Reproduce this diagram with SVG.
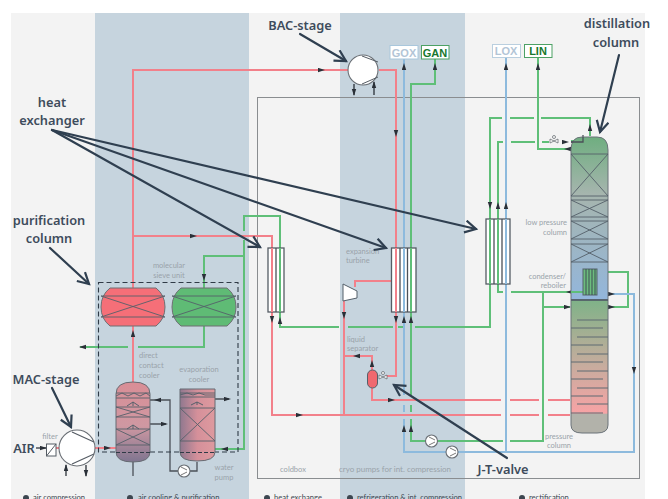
<svg xmlns="http://www.w3.org/2000/svg" width="668" height="499" viewBox="0 0 668 499">
<style>
.r,.g,.b,.k,.d{fill:none}
.r{stroke:#f2808a;stroke-width:2}
.g{stroke:#5fbf78;stroke-width:2}
.b{stroke:#8dbadd;stroke-width:2}
.k{stroke:#4b5058;stroke-width:1.300}
.d{stroke:#2f3f50;stroke-width:2.200;stroke-linecap:round}
.t{font-family:"Noto Sans","Open Sans",sans-serif;font-weight:600;font-size:12.800px;fill:#3e4c5c;text-anchor:middle}
.s{font-family:Lato,"Open Sans",sans-serif;font-size:7.500px;fill:#9aa3aa;text-anchor:middle}
.sl{text-anchor:start}
.se{text-anchor:end}
.f{font-family:Lato,"Open Sans",sans-serif;font-size:7.600px;fill:#3c4650}
.box{font-family:"Liberation Sans",Arial,sans-serif;font-weight:700;font-size:11px;text-anchor:middle}
.x{stroke:#55606a;stroke-width:.9;fill:none}
.v{stroke:#5f6a72;stroke-width:1;fill:none}
.hx{fill:#fff;stroke:#555c64;stroke-width:1.300}
.cp{fill:#fff;stroke:#6a6f75;stroke-width:1.100}
.ah{fill:none;stroke:none}
</style>
<defs>
<marker id="a" markerWidth="8" markerHeight="6" refX="6" refY="2.500" orient="auto" markerUnits="userSpaceOnUse"><path d="M0 .3L7 2.500L0 4.700z" fill="#2a3038"/></marker>
<marker id="h" markerWidth="16" markerHeight="16" refX="12" refY="7" orient="auto" markerUnits="userSpaceOnUse"><path d="M1 1L12 7L1 13" fill="none" stroke="#2f3f50" stroke-width="2.200"/></marker>
<linearGradient id="cu" x1="0" y1="0" x2="0" y2="1"><stop offset="0" stop-color="#6fae80"/><stop offset=".35" stop-color="#a6b5ae"/><stop offset="1" stop-color="#93b6dc"/></linearGradient>
<linearGradient id="cl" x1="0" y1="0" x2="0" y2="1"><stop offset="0" stop-color="#7fb288"/><stop offset=".5" stop-color="#c8ac9e"/><stop offset=".85" stop-color="#f7a3a5"/><stop offset=".86" stop-color="#b2b2aa"/><stop offset="1" stop-color="#b2b2aa"/></linearGradient>
<linearGradient id="dc" x1="0" y1="0" x2="0" y2="1"><stop offset="0" stop-color="#d98e96"/><stop offset=".55" stop-color="#cf98a2"/><stop offset="1" stop-color="#7f7590"/></linearGradient>
<linearGradient id="ev" x1="0" y1="0" x2="1" y2="0"><stop offset="0" stop-color="#90788f"/><stop offset=".5" stop-color="#d5909a"/><stop offset="1" stop-color="#de9a9f"/></linearGradient>
</defs>
<g id="background">
<rect width="668" height="499" fill="#fff"/>
<rect x="11" y="13" width="634" height="486" fill="#f3f3f3"/>
<rect x="95" y="13" width="154" height="486" fill="#c6d4de"/>
<rect x="340" y="13" width="125" height="486" fill="#c6d4de"/>
<rect x="257.500" y="97.500" width="382" height="381" fill="none" stroke="#8a8d90" stroke-width="1"/>
</g>
<g id="connectors">
<path class="r" d="M133 382V70H349"/>
<path class="r" d="M133 236H272V415H501M510 415H539M548 415H570"/>
<path class="r" d="M379 70H396V376H385"/>
<path class="r" d="M396 281H355V287"/>
<path class="r" d="M344 300V415M344 356H372V370M372 388V400H501M510 400H539M548 400H570"/>
<path class="r" d="M62 448H46M95 448H116"/>
<path class="g" d="M244 231V216H280V327H339M348 327H393M398 327H403M415 327H490V118H502M510 118H534M541 118H590V136"/>
<path class="g" d="M244 240V449H215M244 256H204V288"/>
<path class="g" d="M204 326V347H138M128 347H80"/>
<path class="g" d="M498 219V142H503M511 142H535M542 142H549"/>
<path class="g" d="M538 58V149H580V141H571"/>
<path class="g" d="M498 284V292H503M511 292H570M543 292V441H510M503 441H411V419M411 412V405M411 396V84H435V59"/>
<path class="g" d="M543 307H570M597 272H628V307H608"/>
<path class="b" d="M404 59V395M404 405V412M404 419V452H634V294H608"/>
<path class="b" d="M506 57V452"/>
<path class="k" d="M571 142H583V135"/>
<path class="k" d="M150 400H170V471H178M190 471H197V462"/>
<path class="k" d="M133 425L140 424H166M197 402L201 399H229"/>
<path class="k" d="M133 462V476M36 448H46" marker-end="url(#a)"/>
<g class="ah">
<path d="M133 334V331" marker-end="url(#a)"/><path d="M86 347H80" marker-end="url(#a)"/>
<path d="M104 448H110" marker-end="url(#a)"/><path d="M226 449H222" marker-end="url(#a)"/>
<path d="M190 236H196" marker-end="url(#a)"/><path d="M320 70H324" marker-end="url(#a)"/>
<path d="M204 274V280" marker-end="url(#a)"/>
<path d="M272 318V322" marker-end="url(#a)"/><path d="M280 322V318" marker-end="url(#a)"/>
<path d="M344 312V318" marker-end="url(#a)"/><path d="M396 318V322" marker-end="url(#a)"/>
<path d="M404 322V317" marker-end="url(#a)"/><path d="M411 322V317" marker-end="url(#a)"/>
<path d="M396 130V136" marker-end="url(#a)"/>
<path d="M404 70V64" marker-end="url(#a)"/><path d="M435 70V64" marker-end="url(#a)"/>
<path d="M506 70V64" marker-end="url(#a)"/><path d="M538 70V64" marker-end="url(#a)"/>
<path d="M590 130V125" marker-end="url(#a)"/><path d="M490 203V208" marker-end="url(#a)"/>
<path d="M498 208V203" marker-end="url(#a)"/><path d="M506 208V203" marker-end="url(#a)"/>
<path d="M562 142H568" marker-end="url(#a)"/><path d="M570 149H565" marker-end="url(#a)"/>
<path d="M572 292H567" marker-end="url(#a)"/><path d="M563 307H570" marker-end="url(#a)"/>
<path d="M608 294H614" marker-end="url(#a)"/><path d="M608 307H614" marker-end="url(#a)"/>
<path d="M606 272H600" marker-end="url(#a)"/>
<path d="M634 368V373" marker-end="url(#a)"/>
<path d="M360 356H354" marker-end="url(#a)"/>
<path d="M372 366V361" marker-end="url(#a)"/><path d="M388 400H394" marker-end="url(#a)"/>
<path d="M296 415H302" marker-end="url(#a)"/>
<path d="M404 431V426" marker-end="url(#a)"/><path d="M411 431V426" marker-end="url(#a)"/>
<path d="M166 424H167" marker-end="url(#a)"/><path d="M229 399H230" marker-end="url(#a)"/>
<path d="M157 400H161" transform="rotate(180 158 400)" marker-end="url(#a)"/>
</g>
</g>
<g id="hex1"><rect class="hx" x="268" y="248" width="16" height="64"/><path class="r" d="M272 248V312"/><path class="g" d="M280 248V312"/><path class="k" d="M276 248V312"/></g>
<g id="hex2"><rect class="hx" x="391.500" y="248" width="24.500" height="64"/><path class="r" d="M396 248V312"/><path class="b" d="M404 248V312"/><path class="g" d="M411 248V312"/><path class="k" d="M400 248V312M407.500 248V312"/></g>
<g id="hex3"><rect class="hx" x="486" y="219" width="24" height="65"/><path class="g" d="M490 219V284M498 219V284"/><path class="b" d="M506 219V284"/><path class="k" d="M494 219V284M502 219V284"/></g>
<g id="turbine"><path d="M343 284L357 291V298L343 301Z" fill="#fff" stroke="#55606a"/><text class="s sl" x="346" y="254">expansion</text><text class="s sl" x="346" y="263">turbine</text></g>
<g id="separator"><rect x="367.500" y="370" width="10" height="18" rx="5" fill="#f0686f" stroke="#55606a"/><path d="M379 375L387 379V375L379 379Z" fill="#fff" stroke="#6a7075" stroke-width=".8"/><circle cx="383" cy="373" r="1.500" fill="#fff" stroke="#6a7075" stroke-width=".8"/><text class="s sl" x="347" y="341.500">liquid</text><text class="s sl" x="347" y="350.500">separator</text></g>
<g id="sieve-red"><path d="M110 288H156Q165 295 165 307Q165 319 156 326H110Q101 319 101 307Q101 295 110 288Z" fill="#f56f78" stroke="#6e6f73"/><path class="x" d="M101 296H165M101 317H165M101 296L165 317M165 296L101 317"/></g>
<g id="sieve-green"><path d="M181 288H227Q236 295 236 307Q236 319 227 326H181Q172 319 172 307Q172 295 181 288Z" fill="#5fbb75" stroke="#6e6f73"/><path class="x" d="M172 296H236M172 317H236M172 296L236 317M236 296L172 317"/></g>
<rect id="purification-frame" x="98.500" y="282.500" width="139.500" height="169.500" fill="none" stroke="#2f3a46" stroke-width="1.100" stroke-dasharray="5 3"/>
<text class="s" x="169" y="268">molecular</text><text class="s" x="169" y="278">sieve unit</text>
<g id="direct-contact-cooler"><path d="M116 394Q116 382 133 382Q150 382 150 394V452Q150 462 133 462Q116 462 116 452Z" fill="url(#dc)" stroke="#666b72"/><path class="x" d="M116 393H150M116 398H150M116 396L122 393L128 396L134 393L140 396L146 393L150 396M116 407H150M116 417H150M116 407L150 417M150 407L116 417M116 429H150M116 445H150M116 429L150 445M150 429L116 445"/><path d="M116 452.500H150" stroke="#2f3a46" stroke-dasharray="4 2" fill="none"/><path d="M133 402L127 406M133 402L139 406M133 402V406" stroke="#55606a" fill="none"/><path d="M133 425L127 429M133 425L139 429M133 425V429" stroke="#55606a" fill="none"/><text class="s sl" x="139" y="358">direct</text><text class="s sl" x="139" y="368">contact</text><text class="s sl" x="139" y="378">cooler</text></g>
<g id="evaporation-cooler"><path d="M180 389H215V452Q215 461 197 461Q180 461 180 452Z" fill="url(#ev)" stroke="#666b72"/><path class="x" d="M180 393H215M180 397H215M180 395L187 393L193 395L199 393L205 395L215 395M180 408H215M180 441H215M180 408L215 441M215 408L180 441"/><path d="M180 452.500H215" stroke="#2f3a46" stroke-dasharray="4 2" fill="none"/><path d="M197 402L191 405M197 402L203 405M197 402V405" stroke="#55606a" fill="none"/><text class="s" x="199" y="372">evaporation</text><text class="s" x="199" y="382">cooler</text></g>
<g id="water-pump"><circle class="cp" cx="184" cy="471" r="6"/><path d="M181 467L187 470M181 475L187 472" stroke="#777"/><text class="s" x="224" y="470">water</text><text class="s" x="224" y="480">pump</text></g>
<g id="mac-compressor"><circle class="cp" cx="77" cy="448" r="18" stroke-width="1.400"/><path d="M72 432L94 442M72 464L94 454" stroke="#555c64" stroke-width="1.200" fill="none"/><path d="M66 476V465" stroke="#2a3038" stroke-width="1.300" marker-end="url(#a)"/><path d="M86 465V476" stroke="#2a3038" stroke-width="1.300" marker-end="url(#a)"/><rect x="46.500" y="444" width="9.500" height="12" fill="#fff" stroke="#555c64"/><path d="M46.500 456L56 444" stroke="#555c64"/><text class="s" x="50" y="439">filter</text><text class="t" x="24" y="453">AIR</text></g>
<g id="bac-compressor"><circle class="cp" cx="363" cy="70" r="15"/><path d="M362 56L378 62M362 84L378 77" stroke="#555c64" fill="none"/><path d="M354 84V95" stroke="#2a3038" stroke-width="1.300" marker-end="url(#a)"/><path d="M374 95V82" stroke="#2a3038" stroke-width="1.300" marker-end="url(#a)"/></g>
<g id="gox"><rect x="390" y="45.500" width="28" height="13.500" fill="#fff" stroke="#a9c7dc"/><text class="box" x="404" y="56.500" fill="#b3c5d6">GOX</text></g>
<g id="gan"><rect x="421.500" y="45.500" width="27.500" height="13.500" fill="#fff" stroke="#4da165"/><text class="box" x="435" y="56.500" fill="#18772d">GAN</text></g>
<g id="lox"><rect x="492.500" y="44.500" width="28" height="13" fill="#fff" stroke="#bacfdf"/><text class="box" x="506" y="55" fill="#b3c5d6">LOX</text></g>
<g id="lin"><rect x="524.500" y="44.500" width="27.500" height="13" fill="#fff" stroke="#4da165"/><text class="box" x="538" y="55" fill="#18772d">LIN</text></g>
<g id="distillation-column">
<path d="M571 300V150Q571 137 582 137H597Q608 137 608 150V300Z" fill="url(#cu)" stroke="#6a7278"/>
<path d="M571 300V425Q571 433 582 433H597Q608 433 608 425V300Z" fill="url(#cl)" stroke="#6a7278"/>
<path d="M571 300H608" stroke="#4f5a66" stroke-width="1.500"/>
<path class="k" d="M571 142H583V137"/>
<path class="x" d="M571 154H608M571 196H608M571 154L608 196M608 154L571 196M571 200H608M571 217H608M571 200L608 217M608 200L571 217M571 221H608M571 239H608M571 221L608 239M608 221L571 239M571 244H608M571 262H608M571 244L608 262M608 244L571 262"/>
<path class="v" d="M577 320H608M571 328H603M577 337H608M571 345H603M577 354H608M571 362H603M577 371H608M571 379H603M577 388H608M571 396H603M577 404H608M571 413H603"/>
<path class="g" d="M571 292H583"/><rect x="583" y="269" width="14" height="26" fill="#6cbc7e" stroke="#55606a"/><path d="M586 269V295M589 269V295M592 269V295M595 269V295" stroke="#3f4d55" stroke-width="1"/>
<path d="M550 139L558 143V139L550 143Z" fill="#fff" stroke="#6a7075" stroke-width=".8"/><circle cx="554" cy="137" r="1.500" fill="#fff" stroke="#6a7075" stroke-width=".8"/>
<text class="s se" x="567" y="225">low pressure</text><text class="s se" x="567" y="235">column</text>
<text class="s se" x="566" y="279">condenser/</text><text class="s se" x="566" y="288">reboiler</text>
<text class="s" x="559" y="439">pressure</text><text class="s" x="559" y="448">column</text>
</g>
<g id="cryo-pumps"><path class="g" d="M411 441H470"/>
<circle class="cp" cx="431.500" cy="441" r="6"/><path d="M429 437L435 440M429 445L435 442" stroke="#777"/><circle class="cp" cx="452" cy="452" r="6"/><path d="M450 448L456 451M450 456L456 453" stroke="#777"/>
<text class="s" x="395" y="472" style="font-size:8px">cryo pumps for int. compression</text><text class="s" x="293" y="472">coldbox</text></g>
<g id="stage-labels">
<circle cx="26" cy="498" r="3" fill="#3c4650"/><text class="f" x="33" y="500">air compression</text>
<circle cx="130" cy="498" r="3" fill="#3c4650"/><text class="f" x="138" y="500">air cooling &amp; purification</text>
<circle cx="267" cy="498" r="3" fill="#3c4650"/><text class="f" x="274" y="500">heat exchange</text>
<circle cx="350" cy="498" r="3" fill="#3c4650"/><text class="f" x="357" y="500">refrigeration &amp; int. compression</text>
<circle cx="522" cy="498" r="3" fill="#3c4650"/><text class="f" x="529" y="500">rectification</text>
</g>
<g id="callouts">
<path class="d" d="M52 130L260 247" marker-end="url(#h)"/><path class="d" d="M52 130L386 248" marker-end="url(#h)"/><path class="d" d="M52 130L476 229" marker-end="url(#h)"/>
<path class="d" d="M50 248L89 284" marker-end="url(#h)"/><path class="d" d="M52 388L71 427" marker-end="url(#h)"/>
<path class="d" d="M300 34L346 61" marker-end="url(#h)"/><path class="d" d="M619 55L600 132" marker-end="url(#h)"/><path class="d" d="M507 458L394 385" marker-end="url(#h)"/>
<text class="t" x="52" y="107">heat</text><text class="t" x="52" y="125">exchanger</text>
<text class="t" x="49" y="225">purification</text><text class="t" x="49" y="243">column</text>
<text class="t" x="46" y="384">MAC-stage</text><text class="t" x="300" y="30">BAC-stage</text>
<text class="t" x="617" y="28">distillation</text><text class="t" x="616" y="47">column</text>
<text class="t" x="503" y="474">J-T-valve</text>
</g>
</svg>
